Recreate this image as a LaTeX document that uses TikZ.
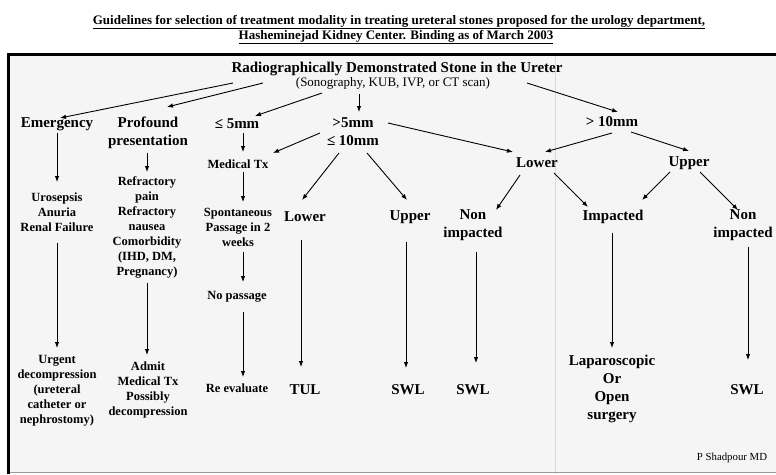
\documentclass[tikz,border=0pt]{standalone}
\usepackage{fontspec}
\setmainfont{Liberation Serif}
\usepackage{tikz}
\usetikzlibrary{arrows.meta}

\tikzset{
  big/.style={font=\fontsize{15}{18}\selectfont\bfseries, align=center, inner sep=1pt},
  small/.style={font=\fontsize{12.5}{15}\selectfont\bfseries, align=center, inner sep=1pt},
  arr/.style={line width=0.9pt, -{Latex[length=6pt,width=4.5pt]}},
}

\begin{document}
\begin{tikzpicture}[x=1pt,y=-1pt]
\useasboundingbox (0,0) rectangle (776,474);
\clip (0,0) rectangle (776,474);

% frame
\fill[black!4] (8,54) rectangle (790,472);
\draw[black!15, line width=0.5pt] (555,56) -- (555,474);
\draw[black!40, line width=0.6pt] (8,472.5) -- (790,472.5);
\draw[line width=3pt] (8,474) -- (8,54) -- (790,54);

% heading
\node[font=\fontsize{13}{15}\selectfont\bfseries] (hdra) at (399,22) {\underline{Guidelines for selection of treatment modality in treating ureteral stones proposed for the urology department,}};
\node[font=\fontsize{13}{15}\selectfont\bfseries] (hdrb) at (396,37) {\underline{Hasheminejad Kidney Center. Binding as of March 2003}};

% top
\node[font=\fontsize{15}{18}\selectfont\bfseries, inner sep=1pt] (root) at (397,69) {Radiographically Demonstrated Stone in the Ureter};
\node[font=\fontsize{13}{15}\selectfont, inner sep=1pt] (scan) at (393,83) {(Sonography, KUB, IVP, or CT scan)};

% first level
\node[big] (emerg) at (57,124) {Emergency};
\node[big] (prof) at (148,133) {Profound\\presentation};
\node[big] (le5) at (237,124) {≤ 5mm};
\node[big] (mid) at (353,132) {>5mm\\≤ 10mm};
\node[big] (gt10) at (612,122) {> 10mm};
\node[big] (lowR) at (537,163) {Lower};
\node[big] (upR) at (689,163) {Upper};

% second level
\node[small] (medtx) at (238,164) {Medical Tx};
\node[small] (uro) at (57,212) {Urosepsis\\Anuria\\Renal Failure};
\node[small] (refr) at (147,227) {Refractory\\pain\\Refractory\\nausea\\Comorbidity\\(IHD, DM,\\Pregnancy)};
\node[small] (spont) at (238,227) {Spontaneous\\Passage in 2\\weeks};
\node[big] (lowM) at (305,217) {Lower};
\node[big] (upM) at (410,217) {Upper};
\node[big] (nonimpL) at (473,225) {Non\\impacted};
\node[big] (imp) at (613,217) {Impacted};
\node[big] (nonimpR) at (743,225) {Non\\impacted};
\node[small] (nopass) at (237,297) {No passage};

% outcomes
\node[small] (urgent) at (57,391) {Urgent\\decompression\\(ureteral\\catheter or\\nephrostomy)};
\node[small] (admit) at (148,390) {Admit\\Medical Tx\\Possibly\\decompression};
\node[small] (reeval) at (237,388) {Re evaluate};
\node[big] (tul) at (305,390) {TUL};
\node[big] (swla) at (408,390) {SWL};
\node[big] (swlb) at (473,390) {SWL};
\node[big] (lap) at (612,389) {Laparoscopic\\Or\\Open\\surgery};
\node[big] (swlc) at (747,390) {SWL};

\node[font=\fontsize{10.8}{13}\selectfont, inner sep=1pt] (sign) at (732,458) {P Shadpour MD};

% from the stone
\draw[arr] ([shift={(-160,0)}]scan.center) -- ([shift={(3,-6)}]emerg.center);
\draw[arr] ([shift={(-130,0)}]scan.center) -- ([shift={(19,-26)}]prof.center);
\draw[arr] ([shift={(-71,10)}]scan.center) -- ([shift={(18,-8)}]le5.center);
\draw[arr] ([shift={(-34,11)}]scan.center) -- ([shift={(6,-20)}]mid.center);
\draw[arr] ([shift={(134,0)}]scan.center) -- ([shift={(6,-10)}]gt10.center);

% emergency / profound
\draw[arr] ([shift={(0,9)}]emerg.center) -- ([shift={(0,-30)}]uro.center);
\draw[arr] ([shift={(0,31)}]uro.center) -- ([shift={(0,-43)}]urgent.center);
\draw[arr] ([shift={(-1,20)}]prof.center) -- ([shift={(0,-55)}]refr.center);
\draw[arr] ([shift={(0,56)}]refr.center) -- ([shift={(-1,-35)}]admit.center);

% small stones
\draw[arr] ([shift={(6,9)}]le5.center) -- ([shift={(5,-12)}]medtx.center);
\draw[arr] ([shift={(5,8)}]medtx.center) -- ([shift={(5,-25)}]spont.center);
\draw[arr] ([shift={(5,25)}]spont.center) -- ([shift={(6,-15)}]nopass.center);
\draw[arr] ([shift={(6,15)}]nopass.center) -- ([shift={(6,-11)}]reeval.center);

% 5-10mm
\draw[arr] ([shift={(-33,1)}]mid.center) -- ([shift={(35,-11)}]medtx.center);
\draw[arr] ([shift={(35,-9)}]mid.center) -- ([shift={(-24,-11)}]lowR.center);
\draw[arr] ([shift={(-14,21)}]mid.center) -- ([shift={(-3,-17)}]lowM.center);
\draw[arr] ([shift={(14,21)}]mid.center) -- ([shift={(-3,-17)}]upM.center);
\draw[arr] ([shift={(-4,23)}]lowM.center) -- ([shift={(-4,-23)}]tul.center);
\draw[arr] ([shift={(-4,25)}]upM.center) -- ([shift={(-2,-22)}]swla.center);

% over 10mm
\draw[arr] ([shift={(0,11)}]gt10.center) -- ([shift={(8,-11)}]lowR.center);
\draw[arr] ([shift={(19,10)}]gt10.center) -- ([shift={(0,-12)}]upR.center);
\draw[arr] ([shift={(-17,12)}]lowR.center) -- ([shift={(23,-15)}]nonimpL.center);
\draw[arr] ([shift={(17,10)}]lowR.center) -- ([shift={(-25,-10)}]imp.center);
\draw[arr] ([shift={(-19,9)}]upR.center) -- ([shift={(29,-17)}]imp.center);
\draw[arr] ([shift={(11,9)}]upR.center) -- ([shift={(-5,-15)}]nonimpR.center);
\draw[arr] ([shift={(3,27)}]nonimpL.center) -- ([shift={(3,-27)}]swlb.center);
\draw[arr] ([shift={(-1,16)}]imp.center) -- ([shift={(0,-41)}]lap.center);
\draw[arr] ([shift={(5,22)}]nonimpR.center) -- ([shift={(1,-30)}]swlc.center);
\end{tikzpicture}
\end{document}
